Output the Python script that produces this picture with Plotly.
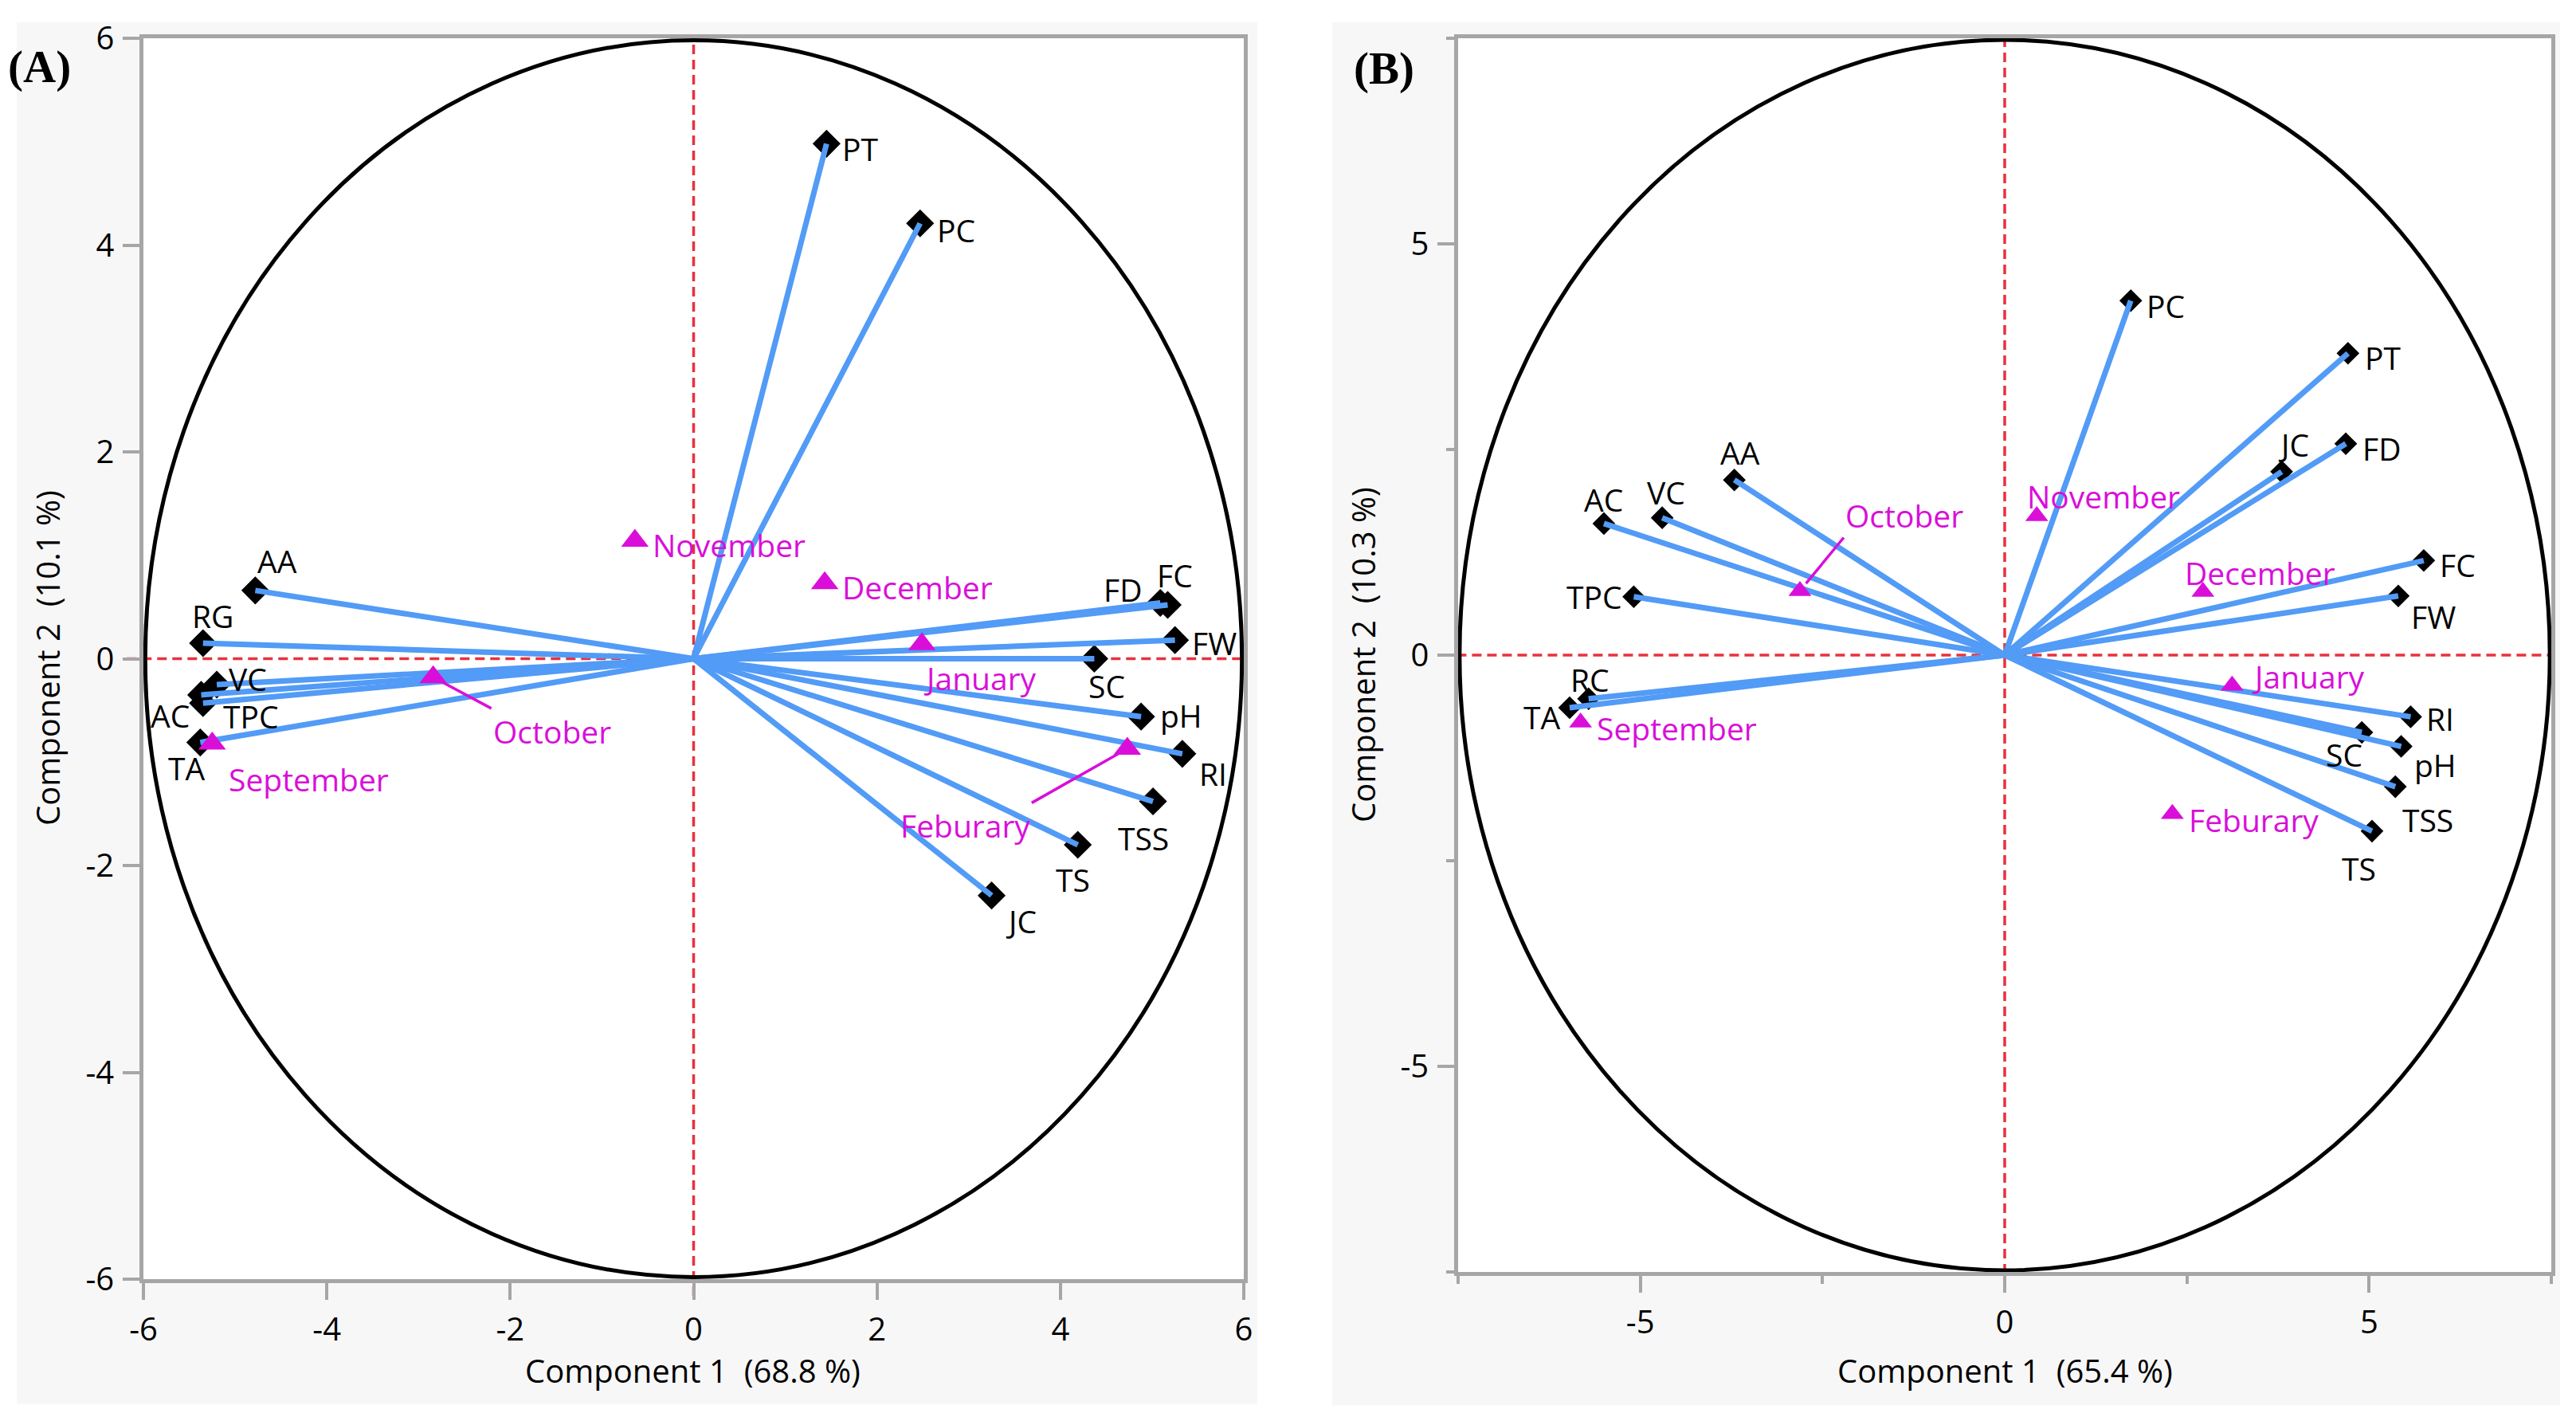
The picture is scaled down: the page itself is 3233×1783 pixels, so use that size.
import plotly.graph_objects as go

# ---------------- data: panel A ----------------
vars_a = ["PT", "PC", "AA", "RG", "VC", "AC", "TPC", "TA", "FD", "FC",
          "FW", "SC", "pH", "RI", "TSS", "TS", "JC"]
pc1_a = [1.45, 2.47, -4.78, -5.35, -5.20, -5.37, -5.35, -5.38, 5.09, 5.17,
         5.25, 4.37, 4.88, 5.33, 5.01, 4.19, 3.25]
pc2_a = [4.98, 4.21, 0.66, 0.15, -0.25, -0.35, -0.43, -0.81, 0.54, 0.52,
         0.18, 0.00, -0.56, -0.92, -1.38, -1.80, -2.29]
months = ["September", "October", "November", "December", "January", "Feburary"]
score1_a = [-5.25, -2.84, -0.64, 1.43, 2.49, 4.73]
score2_a = [-0.82, -0.18, 1.14, 0.73, 0.14, -0.87]
ticks_a = [-6, -4, -2, 0, 2, 4, 6]
ticktext_a = ["-6", "-4", "-2", "0", "2", "4", "6"]
range_a = [-6, 6]
radius_a = 5.98
xtitle_a = "Component 1\u00a0 (68.8 %)"
ytitle_a = "Component 2\u00a0 (10.1 %)"

# ---------------- data: panel B ----------------
vars_b = ["PC", "PT", "JC", "FD", "FC", "FW", "RI", "SC", "pH", "TSS", "TS",
          "AA", "VC", "AC", "TPC", "RC", "TA"]
pc1_b = [1.73, 4.71, 3.80, 4.68, 5.75, 5.40, 5.57, 4.90, 5.44, 5.36, 5.04,
         -3.71, -4.70, -5.50, -5.09, -5.71, -5.97]
pc2_b = [4.31, 3.67, 2.23, 2.57, 1.15, 0.72, -0.75, -0.94, -1.11, -1.60, -2.14,
         2.13, 1.67, 1.60, 0.71, -0.53, -0.64]
score1_b = [-5.82, -2.81, 0.44, 2.72, 3.12, 2.30]
score2_b = [-0.82, 0.78, 1.69, 0.77, -0.37, -1.93]
ticks_b = [-5, 0, 5]
ticktext_b = ["-5", "0", "5"]
range_b = [-7.5, 7.5]
radius_b = 7.48
xtitle_b = "Component 1\u00a0 (65.4 %)"
ytitle_b = "Component 2\u00a0 (10.3 %)"

# ---------------- styles ----------------
W, H = 3233, 1783
OFF = 8  # page body margin
FONT = "Open Sans"
FS = 39
FT = 40
BLUE = "#529BF6"
MAG = "#D90FD9"
RED = "#E8323C"
AXC = "#A6A6A6"
BG = "#F7F7F7"

# label placement: name -> (xanchor, xshift, yshift)
lab_a = {
    "PT": ("left", 18, -6), "PC": ("left", 19, -8), "AA": ("center", 28, 37),
    "RG": ("center", 12, 35), "VC": ("left", 13, 7), "AC": ("right", -13, -26),
    "TPC": ("left", 23, -16), "TA": ("center", -17, -32), "FD": ("right", -21, 17),
    "FC": ("center", 9, 38), "FW": ("left", 19, -3), "SC": ("center", 16, -34),
    "pH": ("left", 22, 2), "RI": ("left", 19, -25), "TSS": ("center", -12, -46),
    "TS": ("center", -6, -43), "JC": ("center", 37, -32),
}
mon_a = {
    "September": ("left", 19, -45), "November": ("left", 20, -5),
    "December": ("left", 20, -5), "January": ("left", 0, -42),
}
# arrow labels: name -> (xanchor, yanchor, ax, ay, standoff)
arr_a = {
    "October": ("left", "top", 73, 39, 10),
    "Feburary": ("right", "top", -120, 68, 12),
}
lab_b = {
    "PC": ("left", 18, -6), "PT": ("left", 19, -5), "JC": ("center", 15, 34),
    "FD": ("left", 19, -6), "FC": ("left", 18, -5), "FW": ("left", 14, -26),
    "RI": ("left", 18, -2), "SC": ("right", 3, -27), "pH": ("left", 14, -23),
    "TSS": ("left", 7, -41), "TS": ("center", -16, -47), "AA": ("center", 7, 35),
    "VC": ("center", 5, 32), "AC": ("center", 0, 30), "TPC": ("right", -12, 0),
    "RC": ("center", 2, 24), "TA": ("right", -10, -11),
}
mon_b = {
    "September": ("left", 18, -7), "November": ("left", -14, 25),
    "December": ("left", -25, 24), "January": ("left", 23, 12),
    "Feburary": ("left", 19, -7),
}
arr_b = {"October": ("left", "bottom", 55, -67, 12)}


def px_x(p):
    return (p - OFF) / W


def px_y(p):
    return 1 - (p - OFF) / H


fig = go.Figure()


def add_panel(xa, ya, v1, v2, s1, s2, dsize, tsize):
    # loading markers
    fig.add_trace(go.Scatter(x=v1, y=v2, mode="markers", xaxis=xa, yaxis=ya,
                             marker=dict(symbol="diamond", size=dsize, color="black"),
                             hoverinfo="skip", showlegend=False))
    # loading vectors
    lx, ly = [], []
    for a, b in zip(v1, v2):
        lx += [0, a, None]
        ly += [0, b, None]
    fig.add_trace(go.Scatter(x=lx, y=ly, mode="lines", xaxis=xa, yaxis=ya,
                             line=dict(color=BLUE, width=7),
                             hoverinfo="skip", showlegend=False))
    # score markers
    fig.add_trace(go.Scatter(x=s1, y=s2, mode="markers", xaxis=xa, yaxis=ya,
                             marker=dict(symbol="triangle-up", size=tsize, color=MAG),
                             hoverinfo="skip", showlegend=False))


add_panel("x", "y", pc1_a, pc2_a, score1_a, score2_a, 27, 30)
add_panel("x2", "y2", pc1_b, pc2_b, score1_b, score2_b, 22, 25)

annotations = []


def add_labels(xa, ya, vnames, v1, v2, labs, color):
    for n, a, b in zip(vnames, v1, v2):
        if n not in labs:
            continue
        xanc, xs, ys = labs[n]
        annotations.append(dict(x=a, y=b, xref=xa, yref=ya, text=n, showarrow=False,
                                xanchor=xanc, yanchor="middle", xshift=xs, yshift=ys,
                                font=dict(family=FONT, size=FS, color=color)))


def add_arrows(xa, ya, vnames, v1, v2, arrs):
    for n, a, b in zip(vnames, v1, v2):
        if n not in arrs:
            continue
        xanc, yanc, ax, ay, so = arrs[n]
        annotations.append(dict(x=a, y=b, xref=xa, yref=ya, text=n, showarrow=True,
                                arrowhead=0, arrowwidth=3.5, arrowcolor=MAG,
                                ax=ax, ay=ay, axref="pixel", ayref="pixel",
                                xanchor=xanc, yanchor=yanc, standoff=so,
                                borderpad=1,
                                font=dict(family=FONT, size=FS, color=MAG)))


add_labels("x", "y", vars_a, pc1_a, pc2_a, lab_a, "black")
add_labels("x", "y", months, score1_a, score2_a, mon_a, MAG)
add_arrows("x", "y", months, score1_a, score2_a, arr_a)
add_labels("x2", "y2", vars_b, pc1_b, pc2_b, lab_b, "black")
add_labels("x2", "y2", months, score1_b, score2_b, mon_b, MAG)
add_arrows("x2", "y2", months, score1_b, score2_b, arr_b)

# axis titles and panel tags
annotations += [
    dict(x=px_x(870), y=px_y(1719), xref="paper", yref="paper", text=xtitle_a,
         showarrow=False, xanchor="center", yanchor="middle",
         font=dict(family=FONT, size=FT, color="black")),
    dict(x=px_x(59), y=px_y(826), xref="paper", yref="paper", text=ytitle_a,
         showarrow=False, xanchor="center", yanchor="middle", textangle=-90,
         font=dict(family=FONT, size=FT, color="black")),
    dict(x=px_x(2516), y=px_y(1719), xref="paper", yref="paper", text=xtitle_b,
         showarrow=False, xanchor="center", yanchor="middle",
         font=dict(family=FONT, size=FT, color="black")),
    dict(x=px_x(1710), y=px_y(822), xref="paper", yref="paper", text=ytitle_b,
         showarrow=False, xanchor="center", yanchor="middle", textangle=-90,
         font=dict(family=FONT, size=FT, color="black")),
    dict(x=px_x(8), y=px_y(84), xref="paper", yref="paper", text="<b>(A)</b>",
         showarrow=False, xanchor="left", yanchor="middle",
         font=dict(family="Liberation Serif", size=57, color="black")),
    dict(x=px_x(1697), y=px_y(86), xref="paper", yref="paper", text="<b>(B)</b>",
         showarrow=False, xanchor="left", yanchor="middle",
         font=dict(family="Liberation Serif", size=57, color="black")),
]

shapes = [
    # panel backgrounds
    dict(type="rect", xref="paper", yref="paper", x0=px_x(21), x1=px_x(1578),
         y0=px_y(1762), y1=px_y(28), fillcolor=BG, line=dict(width=0), layer="below"),
    dict(type="rect", xref="paper", yref="paper", x0=px_x(1672), x1=px_x(3213),
         y0=px_y(1763), y1=px_y(28), fillcolor=BG, line=dict(width=0), layer="below"),
]
for xa, ya, r in [("x", "y", radius_a), ("x2", "y2", radius_b)]:
    shapes += [
        # white plot area
        dict(type="rect", xref=xa + " domain", yref=ya + " domain", x0=0, x1=1,
             y0=0, y1=1, fillcolor="white", line=dict(width=0), layer="below"),
        dict(type="line", xref=xa + " domain", yref=ya, x0=-0.015, x1=1, y0=0, y1=0,
             line=dict(color=RED, width=3.5, dash="12px,7px"), layer="below"),
        dict(type="line", xref=xa, yref=ya + " domain", x0=0, x1=0, y0=-0.0135, y1=1,
             line=dict(color=RED, width=3.5, dash="12px,7px"), layer="below"),
        dict(type="circle", xref=xa, yref=ya, x0=-r, x1=r, y0=-r, y1=r,
             line=dict(color="black", width=5), layer="below"),
    ]

axis_common = dict(showgrid=False, zeroline=False, showline=True, mirror=True,
                   linecolor=AXC, linewidth=4.5, ticks="outside", ticklen=21,
                   tickwidth=4, tickcolor=AXC, ticklabelstandoff=3,
                   automargin=False,
                   tickfont=dict(family=FONT, size=FT, color="black"))

minor_b = dict(dtick=2.5, tick0=0, ticks="outside", ticklen=10, tickwidth=4,
               tickcolor=AXC, showgrid=False)

fig.update_layout(
    width=W, height=H, autosize=False,
    margin=dict(l=0, r=0, t=0, b=0, pad=0),
    paper_bgcolor="white", plot_bgcolor="white",
    showlegend=False,
    xaxis=dict(domain=[px_x(180), px_x(1561)], range=range_a, tickvals=ticks_a,
               ticktext=ticktext_a, anchor="y", **axis_common),
    yaxis=dict(domain=[px_y(1605), px_y(48)], range=range_a, tickvals=ticks_a,
               ticktext=ticktext_a, anchor="x", **axis_common),
    xaxis2=dict(domain=[px_x(1830), px_x(3202)], range=range_b, tickvals=ticks_b,
                ticktext=ticktext_b, anchor="y2", minor=minor_b, **axis_common),
    yaxis2=dict(domain=[px_y(1596), px_y(48)], range=range_b, tickvals=ticks_b,
                ticktext=ticktext_b, anchor="x2", minor=minor_b, **axis_common),
    annotations=annotations,
    shapes=shapes,
)

fig.write_html("out.html")
